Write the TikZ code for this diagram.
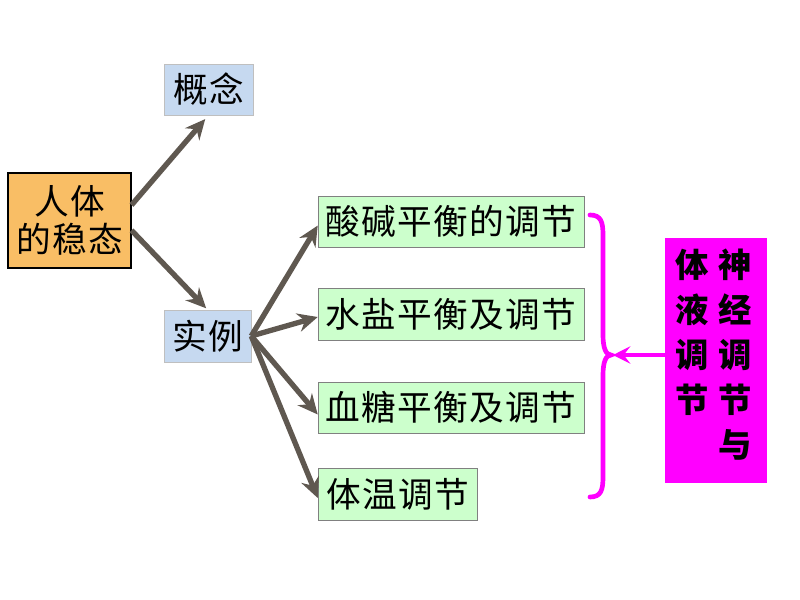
\documentclass[tikz,border=0pt]{standalone}
\usepackage{fontspec}
\setmainfont{Noto Sans CJK SC}
\usetikzlibrary{arrows.meta}

\definecolor{wenorange}{RGB}{249,190,101}
\definecolor{wenblue}{RGB}{198,217,240}
\definecolor{wengreen}{RGB}{204,255,204}
\definecolor{wenarrow}{RGB}{95,88,80}
\definecolor{wenpink}{RGB}{255,0,255}

\begin{document}
\begin{tikzpicture}[x=0.75pt,y=-0.75pt,
        box/.style={draw, inner sep=0pt, align=center,
            font=\fontsize{26}{28.5}\selectfont\addfontfeatures{LetterSpace=4}},
        topbox/.style={box, fill=wenorange, draw=black, thick},
        subbox/.style={box, fill=wenblue, draw=gray!50},
        itembox/.style={box, fill=wengreen, draw=gray},
        fat/.style={wenarrow, line width=4pt,
            -{Stealth[length=15pt, width=14pt, inset=5pt]}},
        column/.style={inner sep=0pt, anchor=north, align=center,
            font=\fontsize{25}{33.75}\selectfont\bfseries}]
                \useasboundingbox (0,0) rectangle (800,600);
                % boxes
                \node[topbox, minimum width=123*0.75pt, minimum height=95*0.75pt]
                    (steady) at (69.5,220.5) {人体\\的稳态};
                \node[subbox, minimum width=89*0.75pt, minimum height=51*0.75pt]
                    (concept) at (208.5,89.5) {概念};
                \node[subbox, minimum width=87*0.75pt, minimum height=52*0.75pt]
                    (example) at (207.5,336) {实例};
                \node[itembox, minimum width=266*0.75pt, minimum height=51*0.75pt]
                    (acid) at (451,221.5) {酸碱平衡的调节};
                \node[itembox, minimum width=266*0.75pt, minimum height=52*0.75pt]
                    (water) at (451,314) {水盐平衡及调节};
                \node[itembox, minimum width=266*0.75pt, minimum height=51*0.75pt]
                    (sugar) at (451,407.5) {血糖平衡及调节};
                \node[itembox, minimum width=159*0.75pt, minimum height=52*0.75pt]
                    (temp) at (397.5,494) {体温调节};
                \node[fill=wenpink, minimum width=102*0.75pt, minimum height=245*0.75pt]
                    (control) at (716,360.5) {};
                \node[column] (nerve) at (735,249) {神\\经\\调\\节\\与};
                \node[column] (fluid) at (692,249) {体\\液\\调\\节};
                % arrows
                \draw[fat, shorten >=5*0.75pt] (steady.14) -- (concept.south);
                \draw[fat, shorten >=2*0.75pt] (steady.-9) -- (example.north);
                \draw[fat] (example.east) -- ([yshift=-4*0.75pt]acid.west);
                \draw[fat] (example.east) -- ([yshift=-3*0.75pt]water.west);
                \draw[fat] (example.east) -- ([yshift=-7*0.75pt]sugar.west);
                \draw[fat] (example.east) -- ([yshift=-4*0.75pt]temp.west);
                % brace
                \draw[wenpink, line width=3.5pt, line cap=round]
                    (590,215) .. controls (601,215) and (603,222) .. (603,235)
                    -- (603,335) .. controls (603,348) and (606,355) .. (611,355)
                    .. controls (606,355) and (603,362) .. (603,375)
                    -- (603,477) .. controls (603,490) and (601,497) .. (590,497);
                \coordinate (tip) at (613,355);
                \draw[wenpink, line width=3pt,
                    -{Stealth[length=13pt, width=13pt, inset=5pt]}]
                    (control.west |- tip) -- (tip);
            \end{tikzpicture}
\end{document}
